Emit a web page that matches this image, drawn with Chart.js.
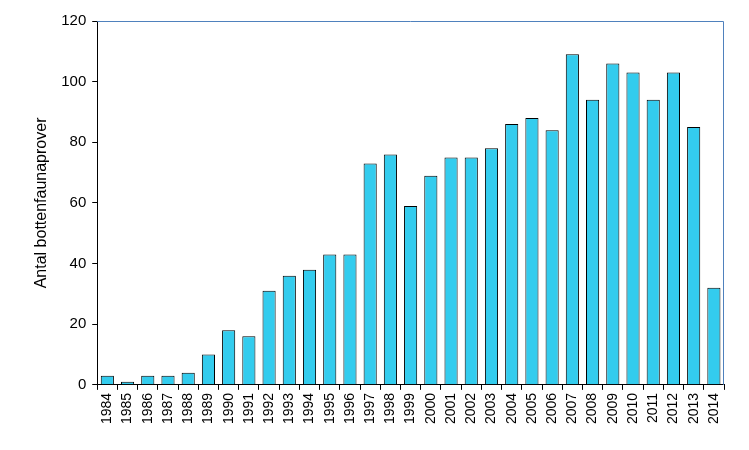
<!DOCTYPE html>
<html><head><meta charset="utf-8">
<script src="https://cdn.jsdelivr.net/npm/chart.js@4/dist/chart.umd.min.js"></script>
<style>html,body{margin:0;padding:0;background:#fff}#w{width:749px;height:450px}</style>
</head><body><div id="w"><canvas id="c"></canvas></div>
<script>
const years=['1984','1985','1986','1987','1988','1989','1990','1991','1992','1993','1994','1995','1996','1997','1998','1999','2000','2001','2002','2003','2004','2005','2006','2007','2008','2009','2010','2011','2012','2013','2014'];
const samples=[3,1,3,3,4,10,18,16,31,36,38,43,43,73,76,59,69,75,75,78,86,88,84,109,94,106,103,94,103,85,32];
const yTitle='Antal bottenfaunaprover';
const frame={id:'frame',afterDraw(ch){const a=ch.chartArea,x=ch.ctx;x.save();x.strokeStyle='#4F81BD';x.lineWidth=1;x.beginPath();x.moveTo(a.left,a.top+0.5);x.lineTo(a.right-0.5,a.top+0.5);x.lineTo(a.right-0.5,a.bottom);x.stroke();x.restore();}};
new Chart(document.getElementById('c'),{type:'bar',
data:{labels:years,datasets:[{data:samples,backgroundColor:'#33CCEE',borderColor:'#000',borderWidth:1,barPercentage:0.65,categoryPercentage:1}]},
options:{responsive:true,maintainAspectRatio:false,animation:false,
layout:{padding:{top:21,right:25,left:28,bottom:23}},
plugins:{legend:{display:false},tooltip:{enabled:false}},
scales:{
x:{grid:{display:true,drawOnChartArea:false,color:'#000',tickLength:5,offset:true},border:{color:'#000'},
ticks:{color:'#000',font:{family:'Liberation Sans',size:14},maxRotation:90,minRotation:90,autoSkip:false}},
y:{min:0,max:120,grid:{drawOnChartArea:false,color:'#000',tickLength:5},border:{color:'#000'},
ticks:{stepSize:20,color:'#000',font:{family:'Liberation Sans',size:15},padding:6},
title:{display:true,text:yTitle,color:'#000',font:{family:'Liberation Sans',size:16}}}}},
plugins:[frame]});
</script></body></html>
